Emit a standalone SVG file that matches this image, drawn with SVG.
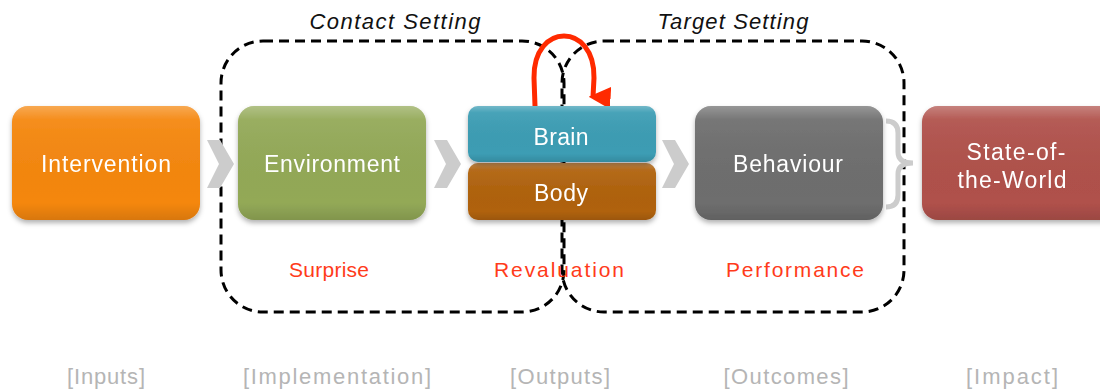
<svg xmlns="http://www.w3.org/2000/svg" width="1100" height="392" viewBox="0 0 1100 392">
  <defs>
    <linearGradient id="sheen" x1="0" y1="0" x2="0" y2="1">
      <stop offset="0" stop-color="#fff" stop-opacity="0.28"/>
      <stop offset="0.12" stop-color="#fff" stop-opacity="0.06"/>
      <stop offset="0.85" stop-color="#000" stop-opacity="0"/>
      <stop offset="1" stop-color="#000" stop-opacity="0.12"/>
    </linearGradient>
    <filter id="shadow" x="-10%" y="-10%" width="120%" height="130%">
      <feDropShadow dx="0" dy="3" stdDeviation="2.5" flood-color="#000" flood-opacity="0.3"/>
    </filter>
    <marker id="redHead" viewBox="0 0 10 10" refX="5" refY="8" markerWidth="4.4" markerHeight="4.4" orient="auto-start-reverse" markerUnits="strokeWidth">
      <path d="M0,0 L10,0 L5,10 Z" fill="#FF2A00"/>
    </marker>
  </defs>
  <style>
    .box { filter: url(#shadow); }
    .lbl { font-family: "Liberation Sans", "DejaVu Sans", sans-serif; font-size: 23px; fill: #fff; text-anchor: middle; }
    .red { font-family: "Liberation Sans", "DejaVu Sans", sans-serif; font-size: 21px; fill: #FF3B1A; text-anchor: middle; }
    .stage { font-family: "Liberation Sans", "DejaVu Sans", sans-serif; font-size: 22px; fill: #B5B5B5; text-anchor: middle; }
    .title { font-family: "Liberation Sans", "DejaVu Sans", sans-serif; font-size: 22px; font-style: italic; fill: #111; text-anchor: middle; }
    .frame { fill: none; stroke: #000; stroke-width: 3; stroke-dasharray: 10 6; }
    .chev { fill: #CCCCCC; }
  </style>

  <!-- setting frames -->
  <g id="frames">
    <rect class="frame" x="221" y="41" width="343" height="271" rx="42" ry="42"/>
    <rect class="frame" x="562" y="41" width="342" height="271" rx="42" ry="42"/>
    <text class="title" x="395" y="29" textLength="171" lengthAdjust="spacing">Contact Setting</text>
    <text class="title" x="733" y="29" textLength="151" lengthAdjust="spacing">Target Setting</text>
  </g>

  <!-- connectors -->
  <g id="connectors">
    <polygon class="chev" points="207,140 220,140 234,164 220,188 207,188 219,164"/>
    <polygon class="chev" points="434,140 447,140 461,164 447,188 434,188 446,164"/>
    <polygon class="chev" points="662,140 675,140 689,164 675,188 662,188 674,164"/>
    <path d="M886,121 Q898,121 898,133 L898,152 Q898,163 913,163 Q898,163 898,174 L898,195 Q898,207 886,207" fill="none" stroke="#CCCCCC" stroke-width="5"/>
    <path d="M535,106 L534,78 C533,22 595,22 594,78 L593,97" fill="none" stroke="#FF2A00" stroke-width="5" marker-end="url(#redHead)"/>
  </g>

  <g id="intervention" class="box">
    <rect x="12" y="106" width="188" height="114" rx="16" fill="#F5870E"/>
    <rect x="12" y="106" width="188" height="114" rx="16" fill="url(#sheen)"/>
    <text class="lbl" x="106" y="172" textLength="130" lengthAdjust="spacing">Intervention</text>
  </g>

  <g id="environment" class="box">
    <rect x="238" y="106" width="188" height="114" rx="16" fill="#93A957"/>
    <rect x="238" y="106" width="188" height="114" rx="16" fill="url(#sheen)"/>
    <text class="lbl" x="332" y="172" textLength="136" lengthAdjust="spacing">Environment</text>
  </g>

  <g id="body" class="box">
    <rect x="468" y="163" width="188" height="57" rx="10" fill="#B0620C"/>
    <rect x="468" y="163" width="188" height="57" rx="10" fill="url(#sheen)"/>
    <text class="lbl" x="561" y="201" textLength="54" lengthAdjust="spacing">Body</text>
  </g>

  <g id="brain" class="box">
    <rect x="468" y="106" width="188" height="56" rx="10" fill="#3C9DB4"/>
    <rect x="468" y="106" width="188" height="56" rx="10" fill="url(#sheen)"/>
    <text class="lbl" x="561" y="145" textLength="55" lengthAdjust="spacing">Brain</text>
  </g>

  <g id="behaviour" class="box">
    <rect x="695" y="106" width="188" height="114" rx="16" fill="#6E6E6E"/>
    <rect x="695" y="106" width="188" height="114" rx="16" fill="url(#sheen)"/>
    <text class="lbl" x="788" y="172" textLength="110" lengthAdjust="spacing">Behaviour</text>
  </g>

  <g id="state-of-the-world" class="box">
    <rect x="922" y="106" width="200" height="114" rx="16" fill="#B0514B"/>
    <rect x="922" y="106" width="200" height="114" rx="16" fill="url(#sheen)"/>
    <text class="lbl" x="1016" y="160" textLength="99" lengthAdjust="spacing">State-of-</text>
    <text class="lbl" x="1012" y="188" textLength="109" lengthAdjust="spacing">the-World</text>
  </g>

  <!-- mechanism labels -->
  <g id="mechanisms">
    <text class="red" x="329" y="277" textLength="80" lengthAdjust="spacing">Surprise</text>
    <text class="red" x="559" y="277" textLength="130" lengthAdjust="spacing">Revaluation</text>
    <text class="red" x="795" y="277" textLength="138" lengthAdjust="spacing">Performance</text>
  </g>

  <!-- stage labels -->
  <g id="stages">
    <text class="stage" x="106" y="384" textLength="78" lengthAdjust="spacing">[Inputs]</text>
    <text class="stage" x="337" y="384" textLength="188" lengthAdjust="spacing">[Implementation]</text>
    <text class="stage" x="560" y="384" textLength="100" lengthAdjust="spacing">[Outputs]</text>
    <text class="stage" x="786" y="384" textLength="125" lengthAdjust="spacing">[Outcomes]</text>
    <text class="stage" x="1012" y="384" textLength="92" lengthAdjust="spacing">[Impact]</text>
  </g>
</svg>
